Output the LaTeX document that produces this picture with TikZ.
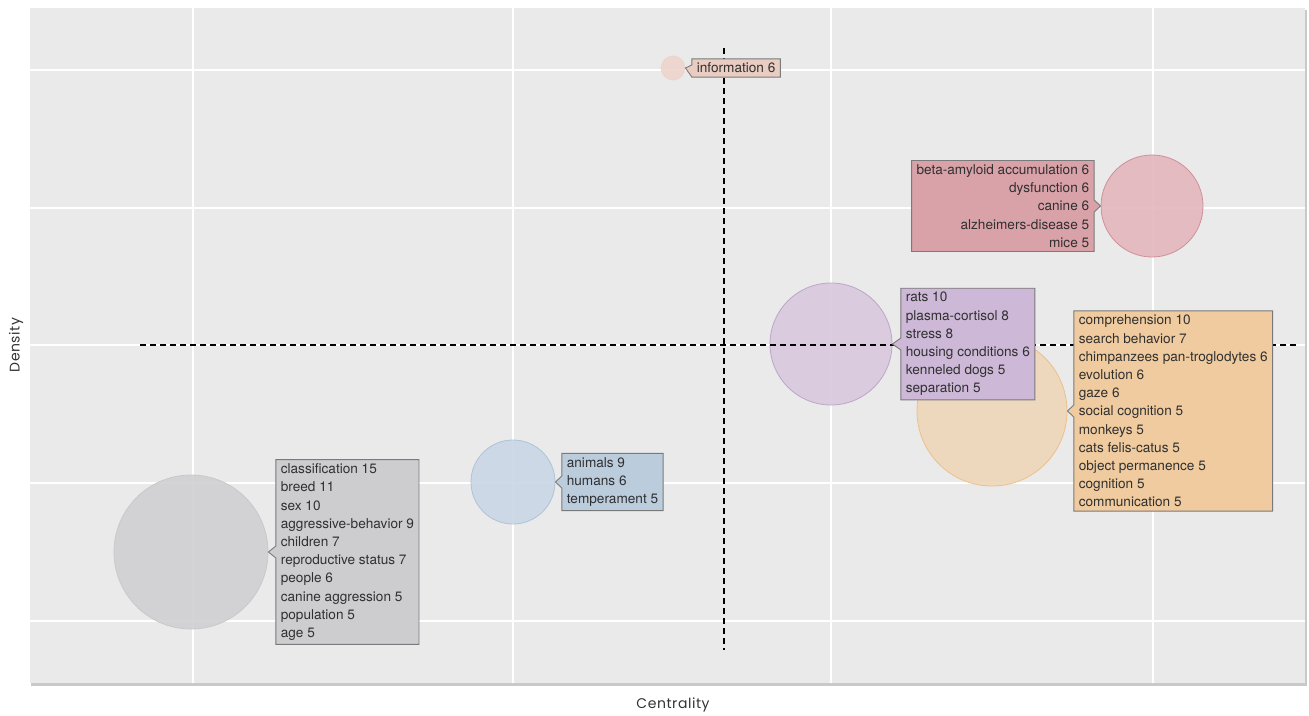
\documentclass[tikz,border=0pt]{standalone}
\usepackage{fontspec}
\setmainfont{TeX Gyre Heros}
\newfontfamily\axisfont[LetterSpace=4]{Poppins}
\usetikzlibrary{positioning,shapes.callouts}

\definecolor{panelbg}{HTML}{EAEAEA}
\definecolor{panelshade}{HTML}{C9C9C9}
\definecolor{boxline}{HTML}{7A7A7A}
\definecolor{txt}{HTML}{303030}
\definecolor{infofill}{HTML}{EED5CD}
\definecolor{infobox}{HTML}{E9CDC2}
\definecolor{alzfill}{HTML}{E5B8BF}
\definecolor{alzline}{HTML}{D08F98}
\definecolor{alzbox}{HTML}{D9A2A9}
\definecolor{stressfill}{HTML}{D9C9DF}
\definecolor{stressline}{HTML}{BCA6C8}
\definecolor{stressbox}{HTML}{CDB8D7}
\definecolor{cogfill}{HTML}{EFD7BA}
\definecolor{cogline}{HTML}{EDBF8A}
\definecolor{cogbox}{HTML}{EFCB9F}
\definecolor{animfill}{HTML}{CAD7E5}
\definecolor{animline}{HTML}{AFC2D7}
\definecolor{animbox}{HTML}{BBCCDD}
\definecolor{breedfill}{HTML}{D1D1D3}
\definecolor{breedline}{HTML}{C9C9CB}
\definecolor{breedbox}{HTML}{CDCDD0}

\begin{document}
\begin{tikzpicture}[x=1pt, y=-1pt,
    bubble/.style={circle, inner sep=0pt, line width=0.8pt, fill opacity=0.92},
    tipbox/.style={rectangle callout, callout pointer width=12pt, draw=boxline,
      line width=0.9pt, align=left, inner xsep=5pt, inner ysep=4pt, text=txt,
      font=\fontsize{13.6}{18.2}\selectfont},
    axistitle/.style={font=\axisfont\fontsize{14}{16}\selectfont, text=black!80}]
    \useasboundingbox (0,0) rectangle (1309,715);
    %% plot panel with grid
    \fill [panelshade] (31,10) rectangle (1307,686);
    \fill [panelbg] (30,8) rectangle (1305,683);
    \foreach \x in {193, 513, 831, 1153} \draw [white, line width=1.5pt] (\x,8) -- (\x,683);
    \foreach \y in {70, 208, 345, 483, 621} \draw [white, line width=1.5pt] (30,\y) -- (1305,\y);

    %% clusters
    \node [bubble, fill=infofill, draw=infofill, minimum size=24pt] (info) at (673,68) {};
    \node [bubble, fill=alzfill, draw=alzline, minimum size=102pt] (alz) at (1152,206) {};
    \node [bubble, fill=cogfill, draw=cogline, minimum size=150pt] (cog) at (992,411) {};
    \node [bubble, fill=stressfill, draw=stressline, minimum size=122pt] (stress) at (831,344) {};
    \node [bubble, fill=animfill, draw=animline, minimum size=84pt] (anim) at (513,482) {};
    \node [bubble, fill=breedfill, draw=breedline, minimum size=154pt] (breed) at (191,552) {};

    %% quadrant lines
    \draw [dashed, dash pattern=on 6pt off 4pt, line width=1.2pt] (140,345) -- (1298,345);
    \draw [dashed, dash pattern=on 6pt off 4pt, line width=1.2pt] (724,48) -- (724,650);

    %% labels
    \node [tipbox, fill=infobox, right=6pt of info, callout absolute pointer={(info.east)}]
      (infolab) {information 6};
    \node [tipbox, fill=alzbox, align=right, left=6pt of alz, callout absolute pointer={(alz.west)}]
      (alzlab) {beta-amyloid accumulation 6\\ dysfunction 6\\ canine 6\\
        alzheimers-disease 5\\ mice 5};
    \node [tipbox, fill=cogbox, right=6pt of cog, callout absolute pointer={(cog.east)}]
      (coglab) {comprehension 10\\ search behavior 7\\ chimpanzees pan-troglodytes 6\\
        evolution 6\\ gaze 6\\ social cognition 5\\ monkeys 5\\ cats felis-catus 5\\
        object permanence 5\\ cognition 5\\ communication 5};
    \node [tipbox, fill=stressbox, right=8pt of stress, callout absolute pointer={(stress.east)}]
      (stresslab) {rats 10\\ plasma-cortisol 8\\ stress 8\\ housing conditions 6\\
        kenneled dogs 5\\ separation 5};
    \node [tipbox, fill=animbox, right=6pt of anim, callout absolute pointer={(anim.east)}]
      (animlab) {animals 9\\ humans 6\\ temperament 5};
    \node [tipbox, fill=breedbox, right=7pt of breed, callout absolute pointer={(breed.east)}]
      (breedlab) {classification 15\\ breed 11\\ sex 10\\ aggressive-behavior 9\\
        children 7\\ reproductive status 7\\ people 6\\ canine aggression 5\\
        population 5\\ age 5};

    %% axis titles
    \node [axistitle] (xtitle) at (673,705) {Centrality};
    \node [axistitle, rotate=90] (ytitle) at (16,345) {Density};
  \end{tikzpicture}
\end{document}
